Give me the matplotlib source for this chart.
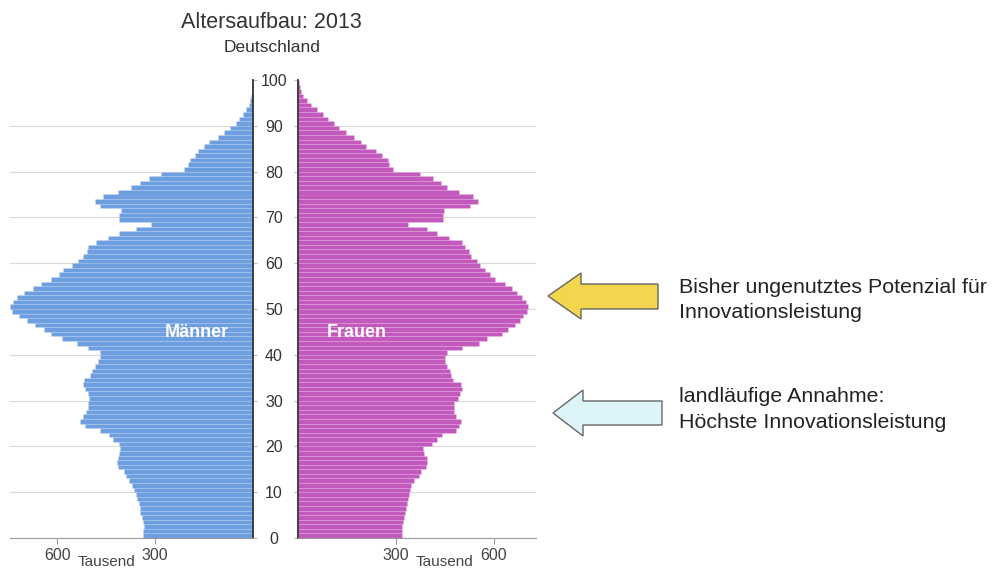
import matplotlib.pyplot as plt
import numpy as np
from matplotlib.patches import Polygon

plt.rcParams['font.family'] = ['Liberation Sans', 'DejaVu Sans']

# Bevölkerung in Tausend je Altersjahr (0 ... 99)
ages = np.arange(0, 100)
maenner = [336, 336, 334, 338, 340, 345, 346, 350, 356, 358,
           366, 370, 381, 390, 397, 414, 418, 415, 410, 408,
           412, 428, 443, 469, 515, 530, 522, 512, 505, 505,
           503, 506, 515, 520, 518, 500, 495, 484, 474, 470,
           468, 505, 540, 585, 618, 642, 668, 694, 718, 738,
           745, 735, 723, 702, 676, 650, 618, 596, 582, 556,
           537, 522, 509, 507, 480, 446, 412, 358, 312, 412,
           412, 405, 470, 485, 460, 415, 373, 347, 318, 281,
           212, 198, 192, 178, 170, 150, 135, 108, 88, 70,
           53, 42, 31, 20, 12, 8, 5, 3, 2, 1]
frauen = [320, 320, 320, 321, 326, 328, 331, 333, 338, 340,
          345, 347, 357, 370, 376, 392, 395, 397, 386, 382,
          412, 426, 442, 484, 495, 500, 485, 480, 478, 478,
          492, 497, 502, 500, 475, 470, 465, 458, 450, 452,
          458, 502, 555, 580, 625, 645, 665, 682, 690, 702,
          704, 700, 688, 672, 655, 635, 605, 590, 575, 558,
          548, 532, 524, 512, 502, 464, 425, 395, 338, 445,
          445, 448, 528, 553, 537, 494, 458, 440, 414, 375,
          292, 280, 277, 258, 238, 208, 192, 172, 147, 126,
          110, 93, 76, 58, 40, 28, 16, 10, 6, 3]

y_ticks = list(range(0, 101, 10))
x_ticks = [300, 600]
grid_levels = [10, 20, 30, 40, 50, 60, 70, 80, 90]

blau = '#6d9ee0'
magenta = '#c459bd'

W, H = 992, 569
fig = plt.figure(figsize=(W / 100, H / 100), dpi=100)


def box(x0, y0, x1, y1):
    # pixel box (top-left origin) -> figure fraction
    return [x0 / W, 1 - y1 / H, (x1 - x0) / W, (y1 - y0) / H]


ax_m = fig.add_axes(box(10, 80, 253, 538))
ax_f = fig.add_axes(box(298, 80, 536, 538))

ax_m.barh(ages, maenner, height=1, align='edge', color=blau,
          edgecolor=(1, 1, 1, 0.18), linewidth=0.4, zorder=2)
ax_f.barh(ages, frauen, height=1, align='edge', color=magenta,
          edgecolor=(1, 1, 1, 0.18), linewidth=0.4, zorder=2)

ax_m.set_xlim(745, 0)
ax_f.set_xlim(0, 730)

for ax in (ax_m, ax_f):
    ax.set_ylim(0, 100)
    for lvl in grid_levels:
        ax.axhline(lvl, color='#dadada', lw=0.8, zorder=1)
    ax.spines['top'].set_visible(False)
    ax.spines['bottom'].set_color('#9a9a9a')
    ax.set_xticks(x_ticks)
    ax.set_xticklabels([str(t) for t in x_ticks])
    ax.tick_params(axis='x', direction='out', length=4, color='#9a9a9a',
                   labelsize=11.5, labelcolor='#444444', pad=3)
    ax.set_yticks(y_ticks)
    ax.set_facecolor('none')

ax_m.spines['left'].set_visible(False)
ax_m.spines['right'].set_color('#333333')
ax_m.spines['right'].set_linewidth(1.3)
ax_m.yaxis.tick_right()
ax_m.tick_params(axis='y', length=3, color='#bbbbbb', labelright=False)

ax_f.spines['right'].set_visible(False)
ax_f.spines['left'].set_color('#333333')
ax_f.spines['left'].set_linewidth(1.3)
ax_f.set_yticklabels([str(t) for t in y_ticks])
ax_f.tick_params(axis='y', length=3, color='#bbbbbb', labelsize=11.5,
                 labelcolor='#333333', pad=14.3)
for lab in ax_f.get_yticklabels():
    lab.set_horizontalalignment('center')

ax_m.text(172, 44.8, 'Männer', color='white', fontsize=13, fontweight='bold',
          ha='center', va='center', zorder=3)
ax_f.text(88, 44.8, 'Frauen', color='white', fontsize=13, fontweight='bold',
          ha='left', va='center', zorder=3)

# Titel und Achsenbeschriftung
fig.text(271 / W, 1 - 22 / H, 'Altersaufbau: 2013', ha='center', va='center',
         fontsize=15.5, color='#333333')
fig.text(272 / W, 1 - 48 / H, 'Deutschland', ha='center', va='center',
         fontsize=12.5, color='#333333')
fig.text(107 / W, 1 - 562 / H, 'Tausend', ha='center', va='center',
         fontsize=11, color='#444444')
fig.text(445 / W, 1 - 562 / H, 'Tausend', ha='center', va='center',
         fontsize=11, color='#444444')

# Pfeile und Erläuterungen (Pixelkoordinaten)
ax_o = fig.add_axes([0, 0, 1, 1])
ax_o.set_xlim(0, W)
ax_o.set_ylim(H, 0)
ax_o.axis('off')
ax_o.add_patch(Polygon([(548, 296), (581, 273), (581, 284), (658, 284),
                        (658, 309), (581, 309), (581, 319)],
                       closed=True, facecolor='#f3d54e', edgecolor='#666666', lw=1))
ax_o.add_patch(Polygon([(553, 413), (583, 390), (583, 401), (662, 401),
                        (662, 425), (583, 425), (583, 436)],
                       closed=True, facecolor='#ddf4f8', edgecolor='#666666', lw=1))

for txt, y in [('Bisher ungenutztes Potenzial für', 287),
               ('Innovationsleistung', 312),
               ('landläufige Annahme:', 396),
               ('Höchste Innovationsleistung', 422)]:
    ax_o.text(679, y, txt, ha='left', va='center', fontsize=15.4, color='#222222')

fig.savefig('out.png', dpi=100)
